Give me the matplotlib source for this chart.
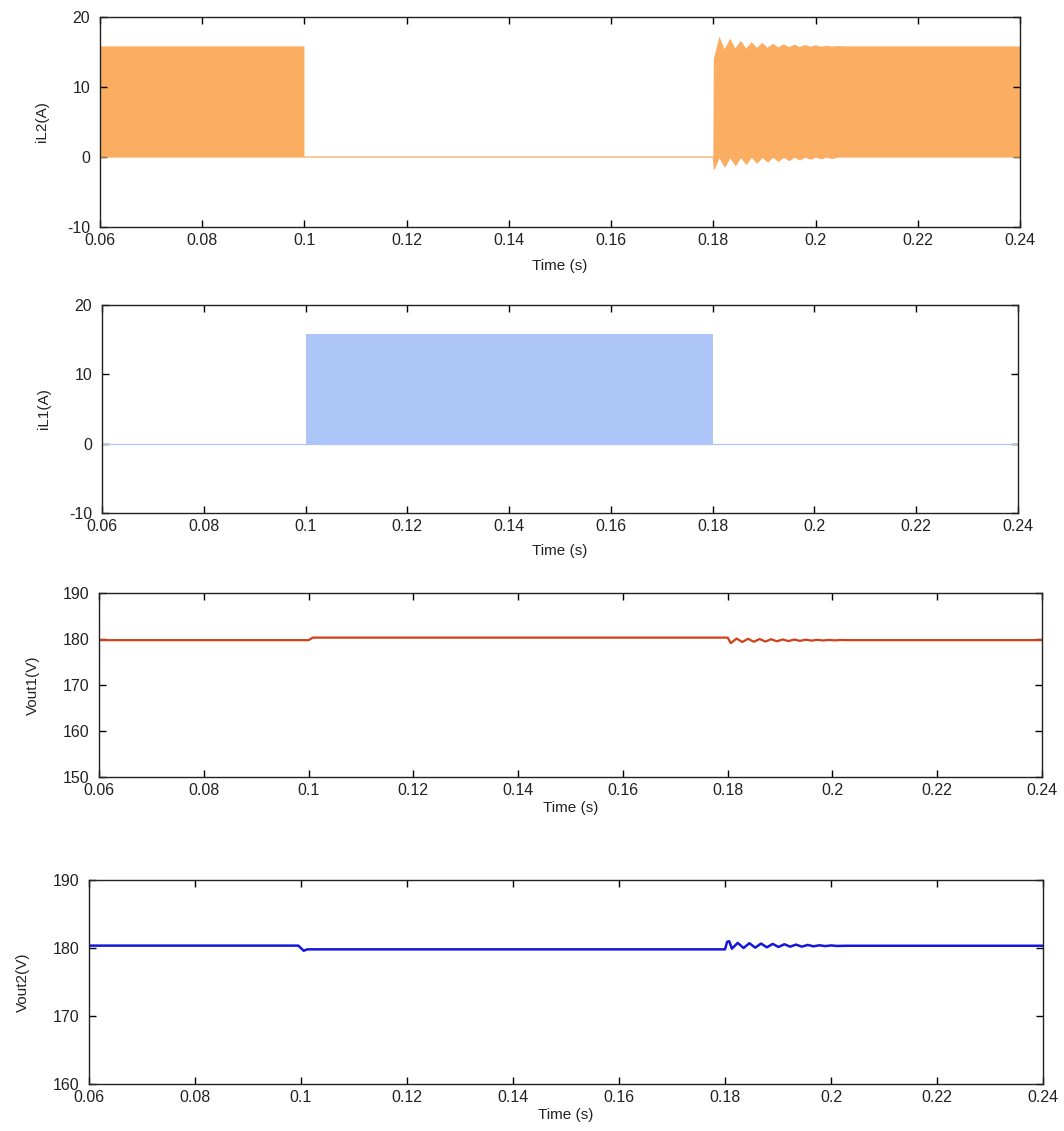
import matplotlib
matplotlib.use("Agg")
import matplotlib.pyplot as plt

plt.rcParams['font.family'] = ['Liberation Sans', 'DejaVu Sans']
plt.rcParams['axes.unicode_minus'] = False

# ---------------- data ----------------
x_ticks = [0.06, 0.08, 0.1, 0.12, 0.14, 0.16, 0.18, 0.2, 0.22, 0.24]
x_ticklabels = ['0.06', '0.08', '0.1', '0.12', '0.14', '0.16', '0.18', '0.2', '0.22', '0.24']

# iL2: envelope of the switching ripple (upper edge and lower edge)
il2_up_t = [0.06, 0.1, 0.1, 0.18, 0.1801, 0.1812, 0.1822, 0.1833, 0.1843, 0.1854,
            0.1864, 0.1875, 0.1885, 0.1896, 0.1906, 0.1917, 0.1927, 0.1938, 0.1948,
            0.1959, 0.1969, 0.1980, 0.1990, 0.2001, 0.2011, 0.2022, 0.2032, 0.2043,
            0.2060, 0.24]
il2_up_v = [15.8, 15.8, 0.0, 0.0, 14.0, 17.2, 15.4, 16.9, 15.5, 16.6,
            15.5, 16.4, 15.6, 16.3, 15.6, 16.2, 15.65, 16.1, 15.7,
            16.05, 15.7, 16.0, 15.75, 15.95, 15.75, 15.9, 15.78, 15.85,
            15.8, 15.8]
il2_lo_t = [0.06, 0.18, 0.1802, 0.1812, 0.1823, 0.1833, 0.1844, 0.1854, 0.1865,
            0.1875, 0.1886, 0.1896, 0.1907, 0.1917, 0.1928, 0.1938, 0.1949, 0.1959,
            0.1970, 0.1980, 0.1991, 0.2001, 0.2012, 0.2022, 0.2033, 0.2043, 0.24]
il2_lo_v = [0.0, 0.0, -1.7, 0.0, -1.4, 0.0, -1.2, 0.0, -1.0,
            0.0, -0.85, 0.0, -0.7, 0.0, -0.6, 0.0, -0.5, 0.0,
            -0.4, 0.0, -0.3, 0.0, -0.25, 0.0, -0.2, 0.0, 0.0]

# iL1: envelope
il1_up_t = [0.06, 0.1, 0.1, 0.18, 0.18, 0.24]
il1_up_v = [0.0, 0.0, 15.8, 15.8, 0.0, 0.0]
il1_lo_t = [0.06, 0.24]
il1_lo_v = [0.0, 0.0]

# Vout1
v1_t = [0.06, 0.1, 0.1008, 0.18, 0.1806, 0.1817, 0.1828, 0.1839, 0.1850, 0.1861,
        0.1872, 0.1883, 0.1894, 0.1905, 0.1916, 0.1927, 0.1938, 0.1949, 0.1960,
        0.1971, 0.1982, 0.1993, 0.2004, 0.2015, 0.2030, 0.24]
v1_v = [179.75, 179.75, 180.3, 180.3, 179.1, 180.1, 179.35, 180.05, 179.4, 180.0,
        179.45, 179.95, 179.5, 179.9, 179.55, 179.88, 179.6, 179.85, 179.65,
        179.82, 179.68, 179.8, 179.7, 179.78, 179.75, 179.75]

# Vout2
v2_t = [0.06, 0.0995, 0.1005, 0.1012, 0.18, 0.1804, 0.1808, 0.1813, 0.1824, 0.1835,
        0.1846, 0.1857, 0.1868, 0.1879, 0.1890, 0.1901, 0.1912, 0.1923, 0.1934,
        0.1945, 0.1956, 0.1967, 0.1978, 0.1989, 0.2000, 0.2011, 0.2030, 0.24]
v2_v = [180.35, 180.35, 179.6, 179.8, 179.8, 180.9, 181.0, 179.9, 180.75, 180.0,
        180.7, 180.05, 180.65, 180.1, 180.6, 180.15, 180.55, 180.2, 180.5,
        180.2, 180.45, 180.25, 180.4, 180.28, 180.38, 180.3, 180.33, 180.33]

ylims = [(-10, 20), (-10, 20), (150, 190), (160, 190)]
yticks = [[-10, 0, 10, 20], [-10, 0, 10, 20], [150, 160, 170, 180, 190], [160, 170, 180, 190]]
ylabels = ['iL2(A)', 'iL1(A)', 'Vout1(V)', 'Vout2(V)']

# ---------------- layout ----------------
W, H = 1064, 1131
fig = plt.figure(figsize=(W / 100, H / 100), dpi=100)
boxes = [(100, 1020, 17, 227), (102, 1018, 305, 513), (99, 1042, 593, 777), (89, 1043, 880, 1084)]
ylab_x = [-0.063, -0.063, -0.070, -0.069]
xlab_y = [-0.186, -0.183, -0.168, -0.152]

axes = []
for (l, r, t, b) in boxes:
    ax = fig.add_axes([l / W, 1 - b / H, (r - l) / W, (b - t) / H])
    axes.append(ax)

c_orange = '#FBAD62'
c_lblue = '#AEC5F8'
c_red = '#D2401A'
c_blue = '#1515DD'

# panel 1
ax = axes[0]
ax.fill(il2_up_t + il2_lo_t[::-1], il2_up_v + il2_lo_v[::-1], color=c_orange, lw=0)
ax.plot(il2_lo_t, il2_lo_v, color=c_orange, lw=0.9)
# panel 2
ax = axes[1]
ax.fill(il1_up_t + il1_lo_t[::-1], il1_up_v + il1_lo_v[::-1], color=c_lblue, lw=0)
ax.plot(il1_lo_t, il1_lo_v, color=c_lblue, lw=0.9)
# panel 3
axes[2].plot(v1_t, v1_v, color=c_red, lw=1.6)
# panel 4
axes[3].plot(v2_t, v2_v, color=c_blue, lw=1.8)

for i, ax in enumerate(axes):
    ax.set_xlim(0.06, 0.24)
    ax.set_ylim(*ylims[i])
    ax.set_xticks(x_ticks)
    ax.set_xticklabels(x_ticklabels)
    ax.set_yticks(yticks[i])
    ax.tick_params(direction='in', length=5, width=1, top=True, right=True,
                   labelsize=11.5, labelcolor='#222222', pad=4)
    ax.tick_params(axis='y', pad=7)
    for s in ax.spines.values():
        s.set_linewidth(1.0)
        s.set_color('#222222')
    ax.set_ylabel(ylabels[i], fontsize=11, color='#222222')
    ax.yaxis.set_label_coords(ylab_x[i], 0.5)
    ax.set_xlabel('Time (s)', fontsize=11, color='#222222')
    ax.xaxis.set_label_coords(0.5, xlab_y[i])
    ax.xaxis.label.set_va('center')
    ax.yaxis.label.set_va('center')

fig.savefig('out.png', dpi=100, facecolor='white')
